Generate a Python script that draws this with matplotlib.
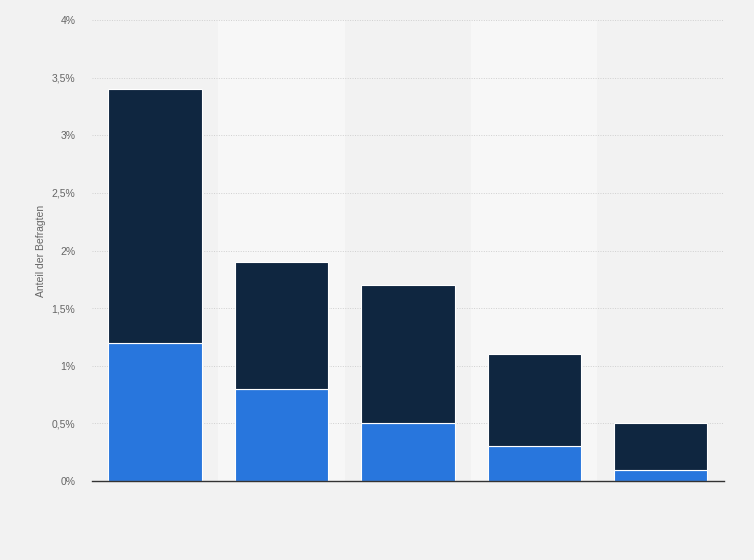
import numpy as np
import matplotlib
matplotlib.use("Agg")
import matplotlib.pyplot as plt
from matplotlib.ticker import FuncFormatter

# data (values in %)
categories = ["1", "2", "3", "4", "5"]
blue_vals = [1.2, 0.8, 0.5, 0.3, 0.1]
dark_vals = [2.2, 1.1, 1.2, 0.8, 0.4]
y_ticks = [0, 0.5, 1, 1.5, 2, 2.5, 3, 3.5, 4]

plt.rcParams['font.family'] = ['Liberation Sans', 'DejaVu Sans']

fig = plt.figure(figsize=(7.54, 5.6), dpi=100, facecolor='#f2f2f2')
ax = fig.add_axes([0.122, 0.141, 0.838, 0.823])
ax.set_facecolor('#f2f2f2')

x = np.arange(len(categories))

# alternating lighter column bands
for i in x:
    if i % 2 == 1:
        ax.axvspan(i - 0.5, i + 0.5, color='#f7f7f7', zorder=0, lw=0)

ax.bar(x, blue_vals, width=0.74, color='#2876dd', edgecolor='white', linewidth=0.8, zorder=3)
ax.bar(x, dark_vals, bottom=blue_vals, width=0.74, color='#0f2640', edgecolor='white', linewidth=0.8, zorder=3)

ax.set_xlim(-0.5, len(categories) - 0.5)
ax.set_ylim(0, 4)
ax.set_yticks(y_ticks)
ax.yaxis.set_major_formatter(FuncFormatter(lambda v, p: ('%g' % v).replace('.', ',') + '%'))
ax.tick_params(axis='y', length=0, labelsize=7.5, labelcolor='#666666', pad=12)
ax.set_xticks([])
ax.grid(axis='y', color='#d0d0d0', linestyle=(0, (1, 1.5)), linewidth=0.7, zorder=1)

for s in ['top', 'right', 'left']:
    ax.spines[s].set_visible(False)
ax.spines['bottom'].set_color('#333333')
ax.spines['bottom'].set_linewidth(1.0)
ax.spines['bottom'].set_zorder(4)

ax.set_ylabel('Anteil der Befragten', fontsize=7.5, color='#666666', labelpad=4)

fig.savefig('out.png', dpi=100, facecolor=fig.get_facecolor())
